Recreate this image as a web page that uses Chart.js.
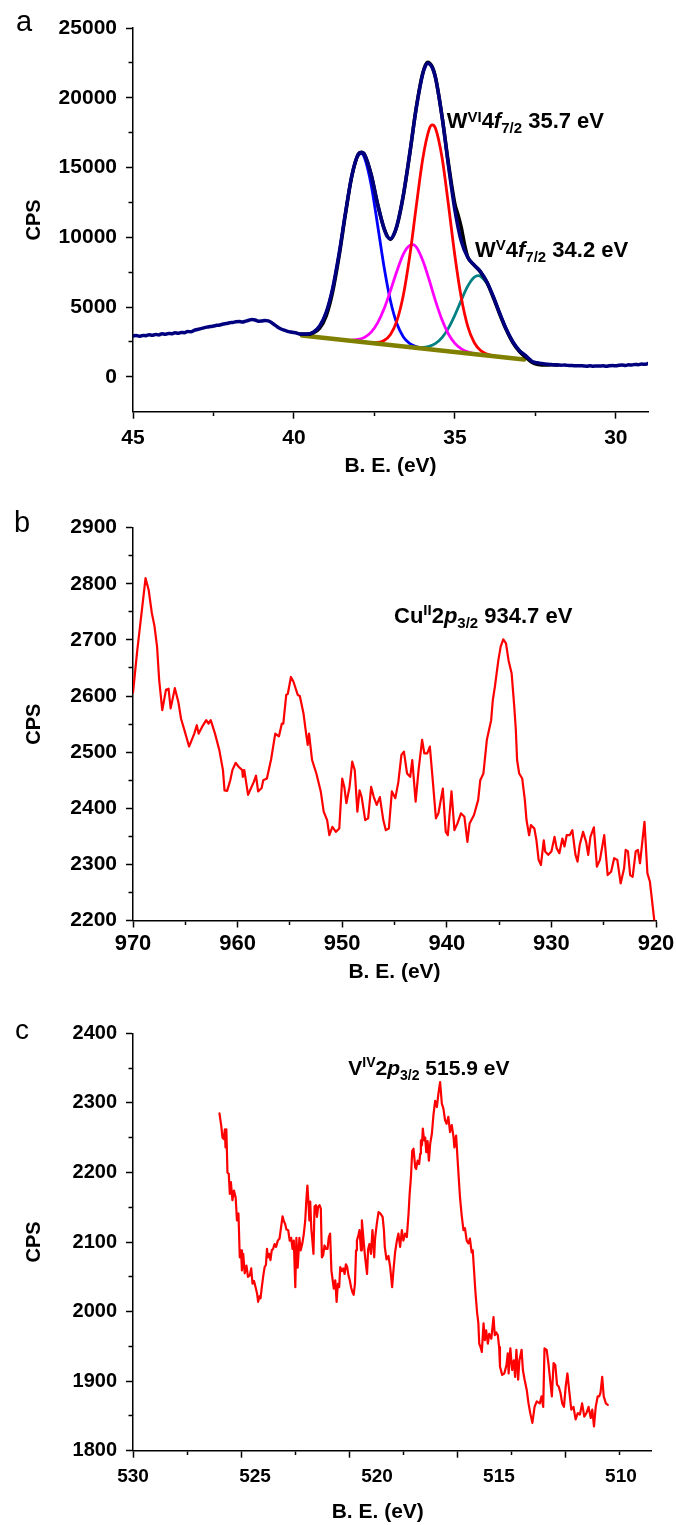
<!DOCTYPE html>
<html>
<head>
<meta charset="utf-8">
<script src="https://cdn.jsdelivr.net/npm/chart.js@4.4.1/dist/chart.umd.min.js"></script>
<style>
html,body{margin:0;padding:0;background:#fff;overflow:hidden;}
#wrap{position:relative;width:676px;height:1525px;}
canvas{position:absolute;left:0;}
</style>
</head>
<body>
<div id="wrap">
<canvas id="ca" width="676" height="490" style="top:0px"></canvas>
<canvas id="cb" width="676" height="510" style="top:490px"></canvas>
<canvas id="cc" width="676" height="525" style="top:1000px"></canvas>
</div>
<script>
// ---------------- DATA ----------------
// Panel a: W 4f  (binding energy eV, CPS)
const A_ENVELOPE = [
[45.0,2930],[44.9,2960],[44.8,2910],[44.7,2970],[44.6,2950],[44.5,3010],[44.4,2980],[44.3,3040],[44.2,3000],[44.1,3080],
[44.0,3050],[43.9,3110],[43.8,3090],[43.7,3150],[43.6,3120],[43.5,3180],[43.4,3160],[43.3,3250],[43.2,3230],[43.1,3330],
[43.0,3390],[42.9,3450],[42.8,3510],[42.7,3560],[42.6,3600],[42.5,3640],[42.4,3690],[42.3,3720],[42.2,3780],[42.1,3820],
[42.0,3870],[41.9,3900],[41.8,3940],[41.7,3960],[41.6,3930],[41.5,3990],[41.4,4050],[41.3,4110],[41.2,4070],[41.1,3990],
[41.0,4000],[40.9,4040],[40.8,4010],[40.7,3900],[40.6,3720],[40.5,3560],[40.4,3430],[40.3,3340],[40.2,3260],[40.1,3210],
[40.0,3170],[39.9,3120],
[39.8,3060],[39.6,3060],[39.4,3196],[39.2,3642],[39.0,4606],[38.8,6309],[38.6,8794],[38.4,11740],[38.2,14436],[38.0,15950],
[37.9,16070],[37.8,15900],[37.6,14450],[37.4,12350],[37.2,10620],[37.1,10050],[37.0,9900],[36.9,10200],[36.8,10850],[36.6,13050],
[36.4,16050],[36.2,19250],[36.0,21700],[35.9,22350],[35.85,22480],[35.8,22450],[35.7,22150],[35.6,21400],[35.4,18650],[35.2,15150],
[35.0,11950],[34.8,9716],[34.6,8554],[34.4,8009],[34.2,7532],[34.0,6783],[33.8,5724],[33.6,4522],[33.4,3403],[33.2,2514],
[33.0,1899],[32.8,1518],
[32.7,1300],[32.6,1100],[32.5,1030],[32.4,990],[32.3,950],[32.2,920],[32.1,900],[32.0,880],[31.9,860],[31.8,850],
[31.7,830],[31.6,845],[31.5,820],[31.4,805],[31.3,800],[31.2,785],[31.1,800],[31.0,780],[30.9,765],[30.8,790],
[30.7,760],[30.6,775],[30.5,770],[30.4,795],[30.3,760],[30.2,790],[30.1,810],[30.0,790],[29.9,830],[29.8,850],
[29.7,815],[29.6,860],[29.5,850],[29.4,890],[29.3,870],[29.2,910],[29.1,895],[29.0,950]
];
const A_RAW = [
[39.8,3060],[39.6,3050],[39.4,3150],[39.2,3480],[39.0,4350],[38.8,6050],[38.6,8600],[38.4,11650],[38.2,14400],[38.0,15950],
[37.9,16100],[37.8,15900],[37.6,14500],[37.4,12400],[37.2,10650],[37.0,9850],[36.8,10800],[36.6,13000],[36.4,16000],[36.2,19300],
[36.0,21750],[35.85,22550],[35.7,22200],[35.6,21450],[35.4,18700],[35.2,15300],[35.0,12400],[34.9,11600],[34.8,10700],[34.7,9500],
[34.6,8600],[34.4,8000],[34.2,7500],[34.0,6750],[33.8,5650],[33.6,4450],[33.4,3350],[33.2,2450],[33.0,1820],[32.8,1400],
[32.6,1020],[32.4,880],[32.2,840],[32.0,860],[31.8,850]
];
const A_BLUE = [
[39.8,3011],[39.6,3037],[39.4,3196],[39.2,3642],[39.0,4606],[38.8,6307],[38.6,8788],[38.4,11721],[38.2,14379],[38.0,15880],
[37.9,15994],[37.8,15649],[37.6,13754],[37.4,10868],[37.2,7877],[37.0,5437],[36.8,3798],[36.6,2858],[36.4,2384],[36.2,2162],
[36.0,2051],[35.8,1985],[35.6,1930]
];
const A_RED = [
[37.8,2484],[37.6,2452],[37.4,2467],[37.2,2607],[37.0,3038],[36.8,4026],[36.6,5868],[36.4,8693],[36.2,12212],[36.0,15597],
[35.8,17734],[35.7,18052],[35.6,17797],[35.4,15739],[35.2,12331],[35.0,8678],[34.8,5659],[34.6,3619],[34.4,2460],[34.2,1886],
[34.0,1626],[33.8,1504],[33.6,1432]
];
const A_MAGENTA = [
[38.2,2636],[38.0,2680],[37.8,2840],[37.6,3203],[37.4,3862],[37.2,4872],[37.0,6180],[36.8,7585],[36.6,8800],[36.4,9420],
[36.3,9470],[36.2,9300],[36.0,8350],[35.8,6960],[35.6,5430],[35.4,4090],[35.2,3070],[35.0,2400],[34.8,2008],[34.6,1790],
[34.4,1667],[34.2,1590]
];
const A_TEAL = [
[36.4,2137],[36.2,2107],[36.0,2111],[35.8,2187],[35.6,2394],[35.4,2808],[35.2,3486],[35.0,4421],[34.8,5501],[34.6,6497],
[34.4,7134],[34.26,7250],[34.2,7208],[34.0,6679],[33.8,5695],[33.6,4515],[33.4,3401],[33.2,2514],[33.0,1899],[32.8,1518]
];
const A_BASELINE = [[39.75,2967],[32.85,1237]];

// Panel b: Cu 2p
const B_DATA = [
[970.0,2606],[969.6,2680],[969.2,2745],[968.8,2810],[968.5,2789],[968.2,2748],[967.95,2725],[967.7,2688],[967.5,2629],[967.2,2575],
[966.85,2611],[966.6,2613],[966.4,2578],[966.0,2614],[965.67,2590],[965.4,2559],[965.05,2537],[964.64,2510],[964.14,2533],[963.9,2548],
[963.73,2533],[963.4,2545],[963.0,2557],[962.78,2551],[962.57,2557],[962.16,2533],[961.75,2504],[961.4,2468],[961.25,2432],[961.0,2431],
[960.7,2450],[960.5,2468],[960.18,2481],[959.9,2474],[959.56,2468],[959.5,2456],[959.36,2468],[959.0,2424],[958.45,2447],[958.24,2458],
[958.04,2430],[957.7,2436],[957.55,2450],[957.2,2453],[956.8,2487],[956.4,2533],[956.05,2528],[955.77,2551],[955.63,2551],[955.35,2602],
[955.2,2604],[954.9,2634],[954.65,2625],[954.25,2602],[954.05,2600],[953.7,2569],[953.5,2540],[953.3,2513],[953.17,2533],[952.88,2486],
[952.47,2462],[952.05,2430],[951.77,2394],[951.44,2379],[951.23,2352],[950.94,2367],[950.6,2358],[950.28,2364],[950.0,2453],[949.8,2438],
[949.6,2409],[949.3,2438],[949.04,2483],[948.8,2468],[948.55,2394],[948.34,2432],[948.14,2420],[947.8,2379],[947.52,2382],[947.23,2438],
[946.98,2420],[946.7,2406],[946.4,2420],[946.07,2379],[945.83,2361],[945.54,2364],[945.25,2430],[944.92,2418],[944.63,2447],[944.34,2495],
[944.1,2501],[943.8,2462],[943.5,2456],[943.3,2486],[942.98,2412],[942.7,2468],[942.36,2522],[942.15,2498],[941.87,2498],[941.62,2510],
[941.33,2447],[941.04,2382],[940.8,2391],[940.38,2435],[940.1,2358],[939.9,2352],[939.55,2430],[939.27,2361],[938.98,2373],[938.65,2391],
[938.32,2385],[938.03,2340],[937.82,2373],[937.4,2388],[937.0,2415],[936.8,2450],[936.5,2462],[936.17,2522],[935.76,2557],[935.6,2593],
[935.4,2617],[935.07,2664],[934.85,2688],[934.6,2701],[934.34,2694],[934.1,2664],[933.8,2640],[933.55,2581],[933.4,2540],[933.28,2486],
[933.08,2462],[932.79,2453],[932.54,2415],[932.38,2379],[932.13,2352],[931.96,2370],[931.63,2364],[931.43,2343],[931.22,2308],[931.0,2299],
[930.73,2343],[930.6,2323],[930.3,2317],[930.0,2323],[929.7,2349],[929.5,2329],[929.24,2320],[928.95,2346],[928.75,2332],[928.54,2352],
[928.25,2352],[928.0,2361],[927.7,2317],[927.5,2305],[927.3,2334],[926.97,2358],[926.68,2340],[926.48,2317],[926.27,2349],[925.94,2366],
[925.65,2296],[925.36,2308],[924.95,2352],[924.62,2281],[924.29,2287],[924.0,2311],[923.7,2308],[923.38,2266],[923.05,2293],[922.9,2326],
[922.68,2323],[922.47,2281],[922.23,2278],[921.94,2323],[921.73,2326],[921.53,2302],[921.1,2376],[920.82,2284],[920.58,2269],[920.17,2201]
];

// Panel c: V 2p
const C_DATA = [
[526.00,2285],[525.92,2268],[525.86,2250],[525.80,2248],[525.75,2262],[525.72,2236],[525.68,2262],[525.63,2200],[525.57,2198],[525.52,2169],
[525.47,2186],[525.40,2160],[525.33,2174],[525.25,2164],[525.19,2131],[525.12,2141],[525.06,2078],[525.00,2088],[524.96,2059],[524.90,2083],
[524.83,2055],[524.75,2066],[524.68,2050],[524.60,2052],[524.53,2062],[524.47,2040],[524.40,2044],[524.32,2034],[524.26,2026],[524.21,2014],
[524.15,2022],[524.10,2019],[524.04,2035],[523.97,2052],[523.91,2064],[523.85,2067],[523.80,2090],[523.76,2078],[523.70,2083],[523.64,2074],
[523.58,2088],[523.52,2090],[523.45,2097],[523.38,2093],[523.30,2102],[523.22,2105],[523.15,2121],[523.08,2137],[523.02,2130],[522.96,2126],
[522.90,2118],[522.82,2117],[522.75,2102],[522.68,2106],[522.62,2090],[522.56,2102],[522.49,2035],[522.44,2106],[522.38,2063],[522.30,2106],
[522.24,2088],[522.17,2097],[522.10,2111],[522.03,2131],[521.98,2160],[521.93,2181],[521.88,2156],[521.84,2131],[521.80,2158],[521.75,2119],
[521.70,2102],[521.65,2083],[521.60,2151],[521.54,2153],[521.49,2136],[521.43,2151],[521.37,2153],[521.31,2148],[521.26,2078],[521.20,2081],
[521.14,2095],[521.07,2090],[521.00,2090],[520.94,2107],[520.88,2112],[520.82,2059],[520.76,2045],[520.71,2033],[520.64,2045],[520.58,2014],
[520.52,2040],[520.46,2035],[520.41,2064],[520.34,2058],[520.27,2062],[520.21,2054],[520.15,2068],[520.09,2064],[520.03,2052],[519.97,2045],
[519.91,2035],[519.85,2028],[519.79,2024],[519.73,2040],[519.68,2088],[519.64,2102],[519.57,2110],[519.52,2117],[519.45,2088],[519.41,2131],
[519.33,2102],[519.26,2078],[519.17,2054],[519.12,2090],[519.06,2097],[518.99,2083],[518.92,2117],[518.84,2078],[518.80,2105],[518.72,2126],
[518.64,2143],[518.56,2141],[518.45,2136],[518.39,2117],[518.35,2093],[518.27,2075],[518.18,2080],[518.10,2064],[518.01,2035],[517.95,2059],
[517.87,2086],[517.79,2102],[517.72,2112],[517.64,2093],[517.56,2117],[517.49,2102],[517.41,2112],[517.33,2107],[517.25,2141],[517.20,2169],
[517.14,2193],[517.08,2231],[517.02,2234],[516.94,2207],[516.90,2205],[516.83,2217],[516.76,2212],[516.71,2227],[516.68,2246],[516.63,2239],
[516.59,2263],[516.53,2246],[516.48,2250],[516.43,2229],[516.37,2245],[516.31,2217],[516.25,2241],[516.17,2256],[516.10,2282],[516.02,2303],
[515.94,2294],[515.87,2313],[515.79,2330],[515.71,2299],[515.64,2292],[515.56,2275],[515.49,2270],[515.41,2280],[515.33,2258],[515.25,2268],
[515.17,2251],[515.13,2236],[515.05,2253],[514.94,2198],[514.87,2164],[514.79,2138],[514.71,2117],[514.64,2120],[514.56,2102],[514.48,2098],
[514.41,2105],[514.33,2085],[514.28,2088],[514.22,2059],[514.16,2030],[514.08,1999],[514.02,1983],[513.98,1954],[513.92,1949],[513.86,1942],
[513.78,1983],[513.72,1959],[513.66,1973],[513.58,1954],[513.52,1968],[513.42,1961],[513.32,1992],[513.26,1966],[513.19,1970],[513.12,1966],
[513.06,1949],[513.02,1921],[512.92,1909],[512.82,1911],[512.72,1923],[512.66,1940],[512.62,1911],[512.54,1947],[512.46,1916],[512.38,1930],
[512.32,1906],[512.26,1945],[512.18,1902],[512.12,1930],[512.02,1945],[511.96,1916],[511.88,1902],[511.78,1887],[511.70,1868],[511.62,1854],
[511.52,1840],[511.42,1863],[511.32,1871],[511.18,1868],[511.10,1878],[511.02,1863],[510.96,1947],[510.86,1945],[510.78,1926],[510.70,1902],
[510.62,1878],[510.54,1926],[510.46,1923],[510.38,1895],[510.30,1892],[510.22,1883],[510.14,1868],[510.06,1863],[509.98,1892],[509.90,1911],
[509.82,1887],[509.72,1859],[509.62,1863],[509.52,1845],[509.42,1854],[509.32,1852],[509.22,1868],[509.12,1849],[509.02,1854],[508.92,1863],
[508.82,1847],[508.75,1859],[508.67,1835],[508.59,1863],[508.50,1878],[508.43,1878],[508.37,1883],[508.29,1906],[508.22,1878],[508.12,1868],
[508.03,1866]
];

// Ticks
const A_X_TICKS = [30, 32.5, 35, 37.5, 40, 42.5, 45];
const A_X_MAJOR = [30, 35, 40, 45];
const A_Y_TICKS = [0, 2500, 5000, 7500, 10000, 12500, 15000, 17500, 20000, 22500, 25000];
const A_Y_MAJOR = [0, 5000, 10000, 15000, 20000, 25000];
const B_X_TICKS = [920, 925, 930, 935, 940, 945, 950, 955, 960, 965, 970];
const B_X_MAJOR = [920, 930, 940, 950, 960, 970];
const B_Y_TICKS = [2200, 2250, 2300, 2350, 2400, 2450, 2500, 2550, 2600, 2650, 2700, 2750, 2800, 2850, 2900];
const B_Y_MAJOR = [2200, 2300, 2400, 2500, 2600, 2700, 2800, 2900];
const C_X_TICKS = [507.5, 510, 512.5, 515, 517.5, 520, 522.5, 525, 527.5, 530];
const C_X_MAJOR = [510, 515, 520, 525, 530];
const C_X_LABELS = [510, 515, 520, 525, 530];
const C_Y_TICKS = [1800, 1850, 1900, 1950, 2000, 2050, 2100, 2150, 2200, 2250, 2300, 2350, 2400];
const C_Y_MAJOR = [1800, 1900, 2000, 2100, 2200, 2300, 2400];

// ---------------- RENDER ----------------
const FONT = "'Liberation Sans', Arial, Helvetica, sans-serif";
const toXY = arr => arr.map(p => ({x: p[0], y: p[1]}));

function textPlugin(items) {
  return {
    id: 'richText',
    afterDraw(chart) {
      const ctx = chart.ctx;
      for (const item of items) {
        let x = item.x;
        for (const p of item.parts) {
          ctx.save();
          ctx.font = (p.i ? 'italic ' : '') + (p.w || 'bold') + ' ' + p.s + 'px ' + FONT;
          ctx.fillStyle = '#000';
          ctx.textAlign = 'left';
          ctx.textBaseline = 'alphabetic';
          ctx.fillText(p.t, x, item.y + (p.dy || 0));
          x += ctx.measureText(p.t).width;
          ctx.restore();
        }
      }
    }
  };
}

function xAxis(o) {
  const hasGrid = o.grid !== false;
  return {
    type: 'linear', axis: 'x', position: 'bottom', reverse: true,
    min: o.min, max: o.max, weight: o.weight || 0,
    afterBuildTicks: s => { s.ticks = o.ticks.map(v => ({value: v})); },
    afterFit: s => { s.height = o.height; },
    ticks: {
      display: o.showLabels !== false, autoSkip: false, maxRotation: 0, minRotation: 0,
      padding: o.pad || 0, color: '#000', includeBounds: false,
      font: {family: FONT, size: o.size || 21, weight: 'bold'},
      callback: v => (o.labels || []).includes(v) ? String(v) : ''
    },
    grid: {
      display: hasGrid, drawOnChartArea: false, drawTicks: hasGrid, tickLength: hasGrid ? 7 : 0,
      tickColor: '#000', tickWidth: 1.5,
      tickBorderDash: c => (c.tick && (o.major || []).includes(c.tick.value)) ? [] : [3.5, 100]
    },
    border: {display: o.border !== false, color: '#000', width: 1.5},
    title: o.title ? {
      display: true, text: o.title, color: '#000',
      font: {family: FONT, size: 21, weight: 'bold'},
      padding: {top: 0, bottom: o.tpb}
    } : {display: false}
  };
}

function yAxis(o) {
  return {
    type: 'linear', position: 'left', min: o.min, max: o.max,
    afterBuildTicks: s => { s.ticks = o.ticks.map(v => ({value: v})); },
    afterFit: s => { s.width = 133; },
    ticks: {
      autoSkip: false, padding: 9, color: '#000',
      font: {family: FONT, size: o.size || 21, weight: 'bold'},
      callback: v => o.major.includes(v) ? String(v) : ''
    },
    grid: {
      display: true, drawOnChartArea: false, drawTicks: true, tickLength: 7,
      tickColor: '#000', tickWidth: 1.5,
      tickBorderDash: c => (c.tick && o.major.includes(c.tick.value)) ? [] : [0, 2.5, 5, 100]
    },
    border: {display: true, color: '#000', width: 1.5},
    title: {
      display: true, text: 'CPS', color: '#000',
      font: {family: FONT, size: 20, weight: 'bold'},
      padding: {top: 22.5, bottom: 0}
    }
  };
}

function line(data, color, width, smooth) {
  return {
    data: toXY(data), borderColor: color, borderWidth: width, pointRadius: 0, fill: false,
    tension: 0, cubicInterpolationMode: smooth ? 'monotone' : 'default',
    xAxisID: 'x', yAxisID: 'y', borderJoinStyle: 'round', borderCapStyle: 'round'
  };
}

function baseOptions(scales, padding) {
  return {
    responsive: false, animation: false, devicePixelRatio: 1, events: [],
    layout: {padding: padding},
    plugins: {legend: {display: false}, tooltip: {enabled: false}, title: {display: false}},
    scales: scales
  };
}

// Panel a
new Chart(document.getElementById('ca'), {
  type: 'line',
  data: {datasets: [
    line(A_ENVELOPE, '#00007f', 3.5, true),
    line(A_RAW, '#000000', 3.5, true),
    line(A_BASELINE, '#808000', 4.5, false),
    line(A_RED, '#ff0000', 2.8, true),
    line(A_MAGENTA, '#ff00ff', 2.8, true),
    line(A_TEAL, '#008080', 2.8, true),
    line(A_BLUE, '#0000ff', 2.8, true)
  ]},
  options: baseOptions({
    x: xAxis({min: 29, max: 45, ticks: A_X_TICKS, major: A_X_MAJOR, labels: A_X_MAJOR,
              height: 490 - 411.7, pad: 7, size: 21, title: 'B. E. (eV)', tpb: 11}),
    y: yAxis({min: -2500, max: 25000, ticks: A_Y_TICKS, major: A_Y_MAJOR, size: 21})
  }, {left: 0, right: 676 - 648, top: 28, bottom: 0}),
  plugins: [textPlugin([
    {x: 16, y: 30.5, parts: [{t: 'a', s: 29, w: 'normal'}]},
    {x: 446.7, y: 128, parts: [{t: 'W', s: 22}, {t: 'VI', s: 15, dy: -6.5}, {t: '4', s: 22}, {t: 'f', s: 22, i: 1}, {t: '7/2', s: 15, dy: 5}, {t: ' 35.7 eV', s: 22}]},
    {x: 475, y: 256.5, parts: [{t: 'W', s: 22}, {t: 'V', s: 15, dy: -6.5}, {t: '4', s: 22}, {t: 'f', s: 22, i: 1}, {t: '7/2', s: 15, dy: 5}, {t: ' 34.2 eV', s: 22}]}
  ])]
});

// Panel b
new Chart(document.getElementById('cb'), {
  type: 'line',
  data: {datasets: [line(B_DATA, '#ff0000', 2.2, false)]},
  options: baseOptions({
    x: xAxis({min: 920, max: 970, ticks: B_X_TICKS, major: B_X_MAJOR, labels: B_X_MAJOR,
              height: 510 - 430.5, pad: 3.6, size: 22, title: 'B. E. (eV)', tpb: 15}),
    y: yAxis({min: 2200, max: 2900, ticks: B_Y_TICKS, major: B_Y_MAJOR, size: 21})
  }, {left: 0, right: 676 - 656, top: 37.7, bottom: 0}),
  plugins: [textPlugin([
    {x: 14, y: 41.5, parts: [{t: 'b', s: 29, w: 'normal'}]},
    {x: 394, y: 132.7, parts: [{t: 'Cu', s: 22}, {t: 'II', s: 15, dy: -7.5}, {t: '2', s: 22}, {t: 'p', s: 22, i: 1}, {t: '3/2', s: 15, dy: 5.5}, {t: ' 934.7 eV', s: 22}]}
  ])]
});

// Panel c
new Chart(document.getElementById('cc'), {
  type: 'line',
  data: {datasets: [line(C_DATA, '#ff0000', 2.2, false)]},
  options: baseOptions({
    x: xAxis({min: 506, max: 530, ticks: C_X_TICKS, major: C_X_MAJOR, labels: [],
              height: 7, showLabels: false, weight: 0}),
    xl: xAxis({min: 508.74, max: 530, ticks: C_X_LABELS, major: C_X_LABELS, labels: C_X_LABELS,
               height: 525 - 450.7 - 7, pad: 7.6, size: 19, grid: false, border: false, weight: 1,
               title: 'B. E. (eV)\u00a0\u00a0\u00a0\u00a0\u00a0', tpb: 0.5}),
    y: yAxis({min: 1800, max: 2400, ticks: C_Y_TICKS, major: C_Y_MAJOR, size: 20})
  }, {left: 0, right: 676 - 651.7, top: 33.3, bottom: 0}),
  plugins: [textPlugin([
    {x: 15, y: 39, parts: [{t: 'c', s: 28, w: 'normal'}]},
    {x: 348.3, y: 75, parts: [{t: 'V', s: 21}, {t: 'IV', s: 14, dy: -8}, {t: '2', s: 21}, {t: 'p', s: 21, i: 1}, {t: '3/2', s: 14, dy: 5}, {t: ' 515.9 eV', s: 21}]}
  ])]
});
</script>
</body>
</html>
